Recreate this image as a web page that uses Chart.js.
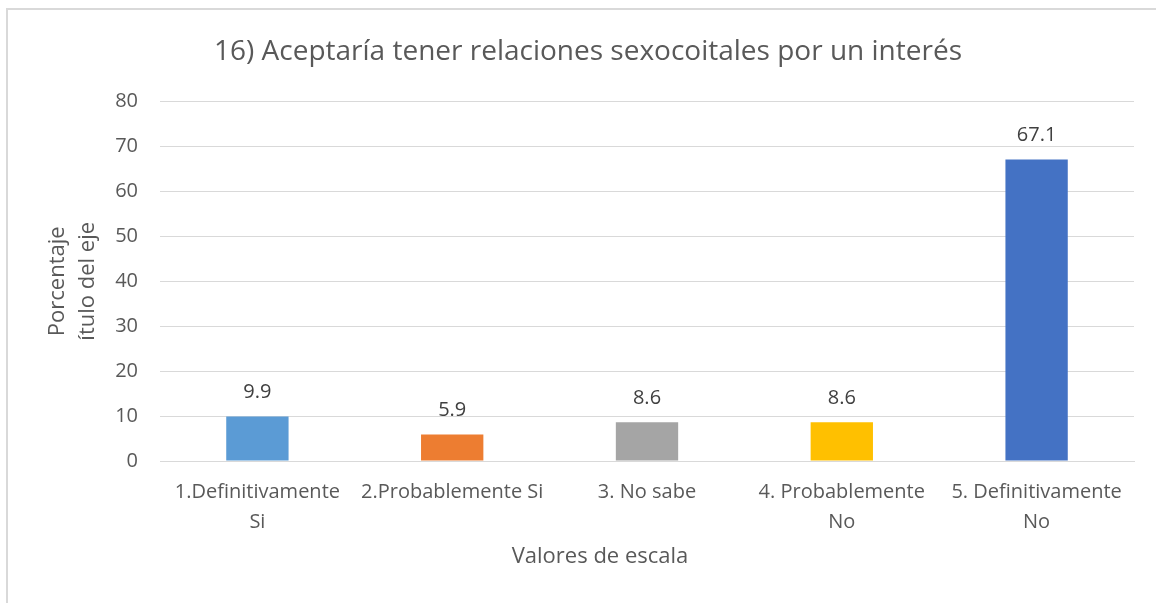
<!DOCTYPE html>
<html>
<head>
<meta charset="utf-8">
<script src="https://cdn.jsdelivr.net/npm/chart.js@4"></script>
<style>
  html, body { margin: 0; padding: 0; background: #fff; }
  .frame {
    position: absolute; left: 6px; top: 8px; width: 1156px; height: 603px;
    border-left: 2px solid #d9d9d9; border-top: 2px solid #d9d9d9;
  }
  .wrap { position: absolute; left: 0; top: 0; width: 1156px; height: 603px; }
</style>
</head>
<body>
<div class="frame"></div>
<div class="wrap"><canvas id="chart" width="1156" height="603"></canvas></div>
<script>
const chartTitle = "16) Aceptaría tener relaciones sexocoitales por un interés";
const categories = [
  ["1.Definitivamente", "Si"],
  "2.Probablemente Si",
  "3. No sabe",
  ["4. Probablemente", "No"],
  ["5. Definitivamente", "No"]
];
const percentages = [9.9, 5.9, 8.6, 8.6, 67.1];
const barColors = ["#5b9bd5", "#ed7d31", "#a5a5a5", "#ffc000", "#4472c4"];
const yTitle = ["Porcentaje", "ítulo del eje"];
const xTitle = "Valores de escala";

const font = "'Open Sans', 'Liberation Sans', sans-serif";
const textColor = "#595959";

// value labels above each bar
const valueLabels = {
  id: "valueLabels",
  afterDatasetsDraw(chart) {
    const ctx = chart.ctx;
    const meta = chart.getDatasetMeta(0);
    ctx.save();
    ctx.font = "20px " + font;
    ctx.fillStyle = "#404040";
    ctx.textAlign = "center";
    ctx.textBaseline = "middle";
    meta.data.forEach((bar, i) => {
      ctx.fillText(String(percentages[i]), bar.x, bar.y - 24);
    });
    ctx.restore();
  }
};

// x axis title, Excel centres it a bit left of the plot
const xAxisTitle = {
  id: "xAxisTitle",
  afterDraw(chart) {
    const ctx = chart.ctx;
    ctx.save();
    ctx.font = "22px " + font;
    ctx.fillStyle = textColor;
    ctx.textAlign = "center";
    ctx.textBaseline = "middle";
    ctx.fillText(xTitle, 600, 557);
    ctx.restore();
  }
};

new Chart(document.getElementById("chart"), {
  type: "bar",
  data: {
    labels: categories,
    datasets: [{
      data: percentages,
      backgroundColor: barColors,
      barPercentage: 0.32,
      categoryPercentage: 1
    }]
  },
  options: {
    responsive: false,
    animation: false,
    layout: { padding: { left: 42, right: 22, top: 0, bottom: 0 } },
    plugins: {
      legend: { display: false },
      tooltip: { enabled: false },
      title: {
        display: true,
        text: chartTitle,
        color: textColor,
        font: { family: font, size: 28, weight: "normal" },
        padding: { top: 35, bottom: 33 }
      }
    },
    scales: {
      x: {
        grid: { display: false, drawTicks: false },
        border: { display: true, color: "#d9d9d9", width: 1 },
        ticks: {
          color: textColor,
          font: { family: font, size: 20, lineHeight: 1.5 },
          padding: 16,
          maxRotation: 0,
          autoSkip: false
        },
        afterFit(scale) { scale.height = 142; }
      },
      y: {
        min: 0,
        max: 80,
        ticks: {
          stepSize: 10,
          color: textColor,
          font: { family: font, size: 20 },
          padding: 22
        },
        grid: { color: "#d9d9d9", lineWidth: 1, drawTicks: false },
        border: { display: false },
        title: {
          display: true,
          text: yTitle,
          color: textColor,
          font: { family: font, size: 22, lineHeight: 1.4 },
          padding: 0
        },
        afterFit(scale) { scale.width = 118; }
      }
    }
  },
  plugins: [valueLabels, xAxisTitle]
});
</script>
</body>
</html>
